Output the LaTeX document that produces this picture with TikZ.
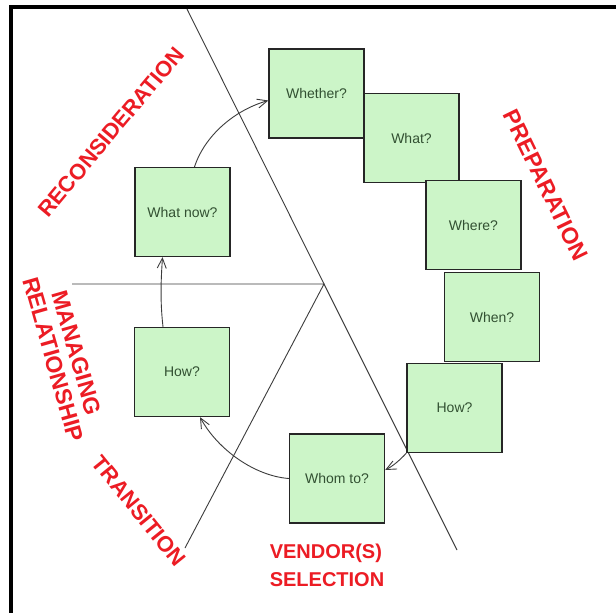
\documentclass[tikz,border=0pt]{standalone}
\usepackage{fontspec}
\setmainfont{Liberation Sans}
\usetikzlibrary{arrows.meta}
\definecolor{boxfill}{RGB}{204,245,200}
\definecolor{boxtext}{RGB}{50,80,50}
\definecolor{phasered}{RGB}{236,28,36}
\definecolor{linegray}{RGB}{60,60,60}

\begin{document}
\begin{tikzpicture}[x=1pt,y=-1pt,
  qbox/.style={draw=black!85,line width=1.3pt,fill=boxfill,minimum width=95pt,
    minimum height=89pt,inner sep=0pt,text=boxtext,font=\fontsize{14}{16}\selectfont},
  phase/.style={text=phasered,font=\bfseries\fontsize{22}{24}\selectfont,inner sep=0pt},
  guide/.style={linegray,line width=0.9pt},
  flow/.style={linegray,line width=0.9pt,-{Straight Barb[length=10pt,width=9pt]}}]

\useasboundingbox (0,0) rectangle (616,613);
\fill[white] (0,0) rectangle (616,613);

% frame along the top and left edges
\draw[line width=4pt,line join=miter] (11,613) -- (11,7) -- (616,7);

% dividing lines between the phases
\coordinate (top) at (187,9);
\coordinate (hub) at (324,284);
\coordinate (bot) at (457,550);
\coordinate (west) at (72,284);
\coordinate (tip) at (185,548);
\draw[guide] (top) -- (hub) -- (bot);
\draw[guide] (west) -- (hub) -- (tip);

% question boxes
\node[qbox] (whether) at (316.5,93.5) {Whether?};
\node[qbox] (what)    at (411.5,138)  {What?};
\node[qbox] (where)   at (473.5,225)  {Where?};
\node[qbox] (when)    at (492,317)    {When?};
\node[qbox] (howR)    at (454.5,408)  {How?};
\node[qbox] (whom)    at (337,478.5)  {Whom to?};
\node[qbox] (howL)    at (182,372)    {How?};
\node[qbox] (whatnow) at (182.5,212)  {What now?};

% cycle arrows
\draw[flow] (howR.south west) .. controls (400,460) and (393,466) .. (whom.10);
\draw[flow] (whom.west) .. controls (255,476) and (218,450) .. ([xshift=18pt]howL.south);
\draw[flow] ([xshift=-19pt]howL.north) .. controls (160,300) and (161,280) .. ([xshift=-20pt]whatnow.south);
\draw[flow] ([xshift=12pt]whatnow.north) .. controls (205,135) and (235,110) .. ([yshift=-7pt]whether.west);

% phase labels
\node[phase,rotate=50] (recon) at (111,132) {RECONSIDERATION};
\node[phase,rotate=-64,font=\bfseries\fontsize{23}{24}\selectfont] (prep) at (546,185) {PREPARATION};
\node[phase,rotate=-74,align=center,font=\bfseries\fontsize{23}{24}\selectfont] (manage) at (65,356) {MANAGING\\RELATIONSHIP};
\node[phase,rotate=-51] (trans) at (139,511) {TRANSITION};
\node[phase,align=left,font=\bfseries\fontsize{20}{28}\selectfont] (vendor) at (327,565) {VENDOR(S)\\SELECTION};
\end{tikzpicture}
\end{document}
